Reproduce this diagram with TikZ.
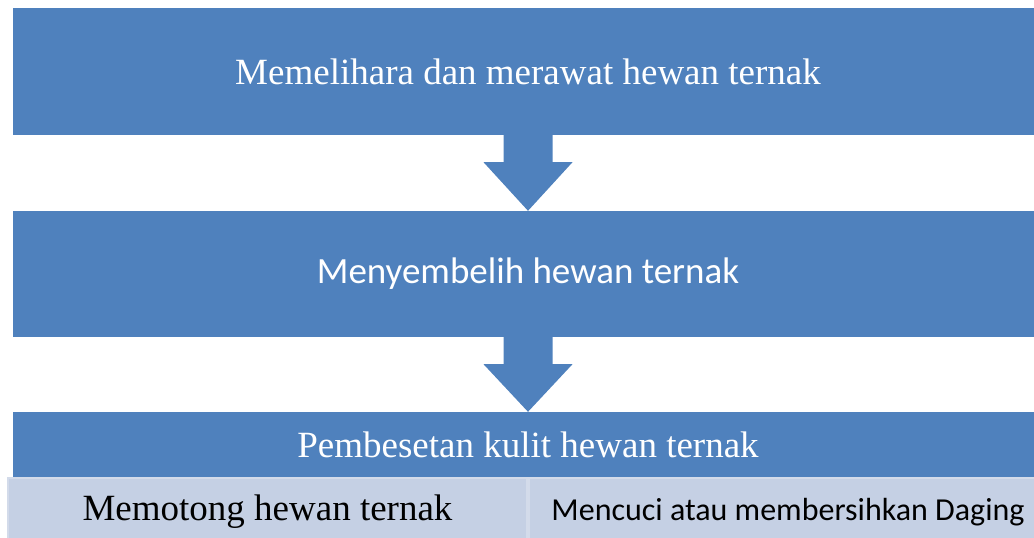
\documentclass[tikz,border=0pt]{standalone}
\usepackage{fontspec}
\setmainfont{Liberation Serif}
\newfontfamily\calibri{Carlito}
\usepackage{tikz}
\usetikzlibrary{calc}
\usetikzlibrary{positioning}
\definecolor{stepblue}{HTML}{4F81BD}
\definecolor{celllight}{HTML}{C5D0E4}
\definecolor{cellline}{HTML}{D3DBEA}
\tikzstyle{stepbox}=[fill=stepblue,rectangle,minimum width=1030pt,inner sep=0pt,text=white,font=\fontsize{37}{40}\selectfont]
\tikzstyle{cellbox}=[fill=celllight,draw=cellline,line width=2pt,rectangle,minimum width=519pt,minimum height=68pt,inner sep=0pt,text=black]

\begin{document}
\begin{tikzpicture}[x=1pt,y=-1pt]
\tikzstyle{blockarrow}=[fill=stepblue]
\useasboundingbox (0,0) rectangle (1034,538);
% the three steps
\node [stepbox,minimum height=127pt] (b1) at (528,71.5) {Memelihara dan merawat hewan ternak};
\node [stepbox,minimum height=126pt,font=\calibri\fontsize{37}{40}\selectfont] (b2) at (528,274) {Menyembelih hewan ternak};
\node [stepbox,minimum height=66pt] (b3) at (528,445) {Pembesetan kulit hewan ternak};
% last row
\node [cellbox,font=\fontsize{37}{40}\selectfont] (c1) at (267.5,512) {Memotong hewan ternak};
\node [cellbox,font=\calibri\fontsize{32}{35}\selectfont] (c2) at (788,512) {Mencuci atau membersihkan Daging};
% arrows
\fill [blockarrow] ($(b1.south)+(-24.5,0)$) -- ++(0,27) -- ++(-20,0) -- (b2.north)
  -- ($(b1.south)+(44.5,27)$) -- ++(-20,0) -- ($(b1.south)+(24.5,0)$) -- cycle;
\fill [blockarrow] ($(b2.south)+(-24.5,0)$) -- ++(0,27) -- ++(-20,0) -- (b3.north)
  -- ($(b2.south)+(44.5,27)$) -- ++(-20,0) -- ($(b2.south)+(24.5,0)$) -- cycle;
\end{tikzpicture}
\end{document}
